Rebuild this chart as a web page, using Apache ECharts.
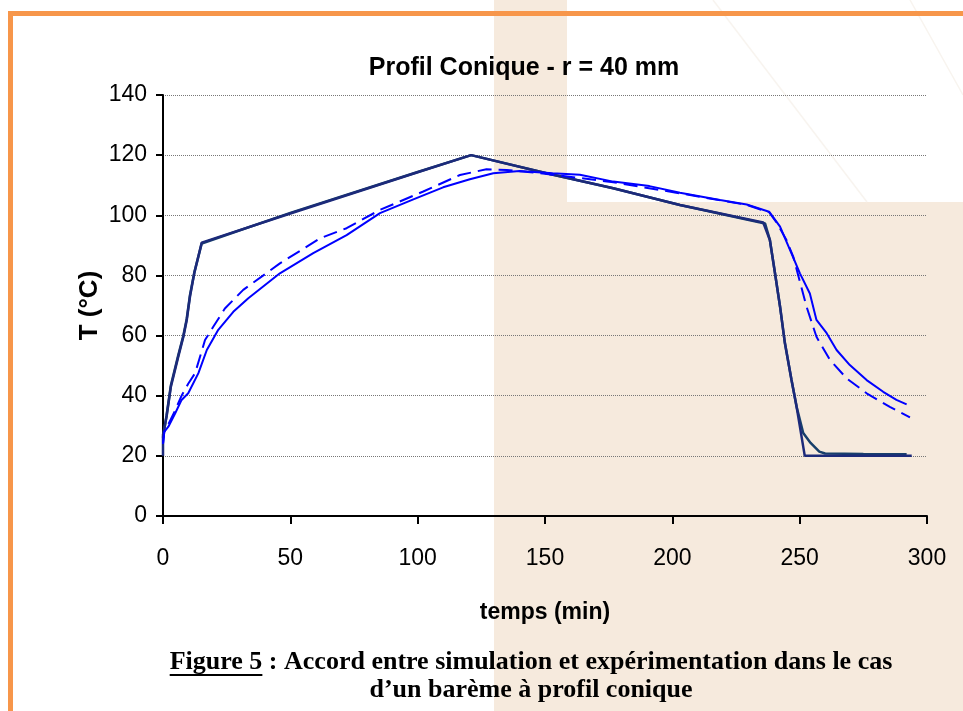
<!DOCTYPE html>
<html>
<head>
<meta charset="utf-8">
<style>
  html, body { margin: 0; padding: 0; background: #fff; }
  #myChart { width: 963px; height: 711px; }
</style>
<script src="https://cdn.jsdelivr.net/npm/echarts@6.0.0/dist/echarts.min.js"></script>
</head>
<body>
<div id="myChart"></div>
<script>
// ticks
const xTicks = [0, 50, 100, 150, 200, 250, 300]
const yTicks = [0, 20, 40, 60, 80, 100, 120, 140]

// consigne (profil conique)
const tConsigne = [0, 0, 1.4, 3.1, 6, 8, 9.3, 10.6, 12.3, 15.2, 50, 100, 121, 150.6, 176.8, 203, 235.7, 238.3, 240.3, 242.3, 244.2, 246.8, 248.8, 252, 294]
const TConsigne = [20, 27, 33, 43, 53, 59.6, 65, 73, 80.8, 90.9, 100.6, 114.3, 120, 114, 109, 103.4, 97.6, 91.8, 80.8, 69.6, 57.5, 45.2, 36.3, 20, 20]

// surface mesuree
const tSurface = [0, 1.4, 3.1, 6, 8, 9.3, 10.6, 12.3, 15.2, 50, 100, 121, 150.6, 176.8, 203, 236.4, 238.3, 240.3, 242.3, 244.2, 246.8, 248.8, 251.4, 254.3, 257.7, 260, 275, 292]
const TSurface = [26, 33.5, 43.5, 53.5, 60, 65.5, 73.5, 81, 90.6, 100.8, 114.4, 120, 114, 109, 103.4, 97.3, 91.8, 80.8, 69.6, 57.5, 45.2, 36.3, 27.6, 24.3, 21.4, 20.8, 20.6, 20.5]

// coeur experimental (trait plein)
const tCoeurExp = [0, 0.5, 2.1, 4.7, 7.3, 9.9, 13.9, 17.2, 21.7, 27.6, 33.5, 45.9, 59, 72.1, 85.2, 98.3, 110, 120.5, 129.7, 140, 153, 163.7, 176.8, 191, 203, 218.7, 229.2, 238, 242.3, 246.2, 250.1, 254, 256.6, 260.6, 264.5, 269.7, 276.3, 282.8, 288, 292]
const TCoeurExp = [24, 28, 29.7, 34, 38.6, 40.8, 47.5, 55.2, 61.9, 67.9, 72.4, 80.7, 87.4, 93.4, 100.7, 105.3, 109.3, 112, 114, 114.7, 114, 113.5, 111.2, 109.7, 107.5, 105.1, 103.6, 101.2, 96.2, 88.5, 80.7, 74, 65.2, 60.8, 55.2, 50.2, 45.2, 41.3, 38.6, 37.1]

// coeur simule (pointille)
const tCoeurSim = [0, 0.5, 2.1, 4.7, 7.3, 9.9, 12.6, 16.5, 19.8, 24.3, 31.5, 45.9, 61.6, 72.1, 85.2, 102.2, 116.6, 127, 135, 150, 176.8, 203, 229, 238, 241, 244.8, 247.5, 250.1, 252.7, 256.6, 261.9, 268.4, 276.3, 285.4, 293.3]
const TCoeurSim = [24, 28, 30.5, 35, 40, 44, 47.5, 58.5, 63, 69, 75.2, 84, 92.3, 95.7, 101.8, 107.9, 113.4, 115.3, 115.1, 113.8, 111, 107.3, 103.5, 101, 97.5, 91.8, 86.2, 77.9, 69.6, 59.6, 51.9, 45.8, 40.8, 36.3, 32.8]

function pairs (ts, vs) {
  return ts.map((t, i) => [t, vs[i]])
}

// caption, "Figure 5" souligne
const captionFont = 'bold 26px "Liberation Serif"'
const capA = 'Figure 5'
const capB = ' : Accord entre simulation et expérimentation dans le cas'
const capLine2 = 'd\u2019un barème à profil conique'
const ctx = document.createElement('canvas').getContext('2d')
ctx.font = captionFont
const wA = ctx.measureText(capA).width
const wAll = ctx.measureText(capA + capB).width
const capX = 531 - wAll / 2

let myChart = echarts.init(document.getElementById('myChart'))
myChart.setOption({
  animation: false,
  backgroundColor: '#fff',
  title: {
    text: 'Profil Conique - r = 40 mm',
    left: 519,
    top: 51,
    textAlign: 'center',
    textStyle: { fontFamily: 'Liberation Sans', fontSize: 25, fontWeight: 'bold', color: '#000' }
  },
  grid: { left: 163, right: 36, top: 95, bottom: 195 },
  xAxis: {
    type: 'value',
    min: xTicks[0],
    max: xTicks[xTicks.length - 1],
    interval: 50,
    name: 'temps (min)',
    nameLocation: 'middle',
    nameGap: 85,
    nameMoveOverlap: false,
    nameTextStyle: { fontFamily: 'Liberation Sans', fontSize: 23, fontWeight: 'bold', color: '#000' },
    axisLine: { lineStyle: { color: '#000', width: 2 } },
    axisTick: { inside: false, length: 8, lineStyle: { color: '#000', width: 2 } },
    axisLabel: { fontFamily: 'Liberation Sans', fontSize: 23, color: '#000', margin: 31 },
    splitLine: { show: false }
  },
  yAxis: {
    type: 'value',
    min: yTicks[0],
    max: yTicks[yTicks.length - 1],
    interval: 20,
    name: 'T (°C)',
    nameLocation: 'middle',
    nameGap: 60,
    nameMoveOverlap: false,
    nameTextStyle: { fontFamily: 'Liberation Sans', fontSize: 26, fontWeight: 'bold', color: '#000' },
    axisLine: { show: true, lineStyle: { color: '#000', width: 2 } },
    axisTick: { show: true, length: 7, lineStyle: { color: '#000', width: 2 } },
    axisLabel: { fontFamily: 'Liberation Sans', fontSize: 23, color: '#000', margin: 16 },
    splitLine: { show: true, lineStyle: { color: '#777', width: 1, type: [1, 1] } }
  },
  series: [
    {
      name: 'Surface',
      type: 'line',
      showSymbol: false,
      lineStyle: { color: '#173F6B', width: 2.5 },
      data: pairs(tSurface, TSurface)
    },
    {
      name: 'Consigne',
      type: 'line',
      showSymbol: false,
      lineStyle: { color: '#1C2A7A', width: 2.5 },
      data: pairs(tConsigne, TConsigne)
    },
    {
      name: 'Coeur exp',
      type: 'line',
      showSymbol: false,
      lineStyle: { color: '#0000FF', width: 2 },
      data: pairs(tCoeurExp, TCoeurExp)
    },
    {
      name: 'Coeur sim',
      type: 'line',
      showSymbol: false,
      lineStyle: { color: '#0000FF', width: 2, type: [14, 7] },
      data: pairs(tCoeurSim, TCoeurSim)
    }
  ],
  graphic: [
    // fond de la page
    { type: 'rect', z: -10, shape: { x: 494, y: 0, width: 73, height: 711 }, style: { fill: '#F6EADD' } },
    { type: 'rect', z: -10, shape: { x: 567, y: 202, width: 396, height: 509 }, style: { fill: '#F6EADD' } },
    { type: 'line', z: -10, shape: { x1: 713, y1: 0, x2: 867, y2: 202 }, style: { stroke: '#F8F4EF', lineWidth: 1.5 } },
    { type: 'line', z: -10, shape: { x1: 910, y1: 0, x2: 963, y2: 95 }, style: { stroke: '#F8F4EF', lineWidth: 1.5 } },
    { type: 'rect', z: -9, shape: { x: 8, y: 11, width: 955, height: 5 }, style: { fill: '#F7964A' } },
    { type: 'rect', z: -9, shape: { x: 8, y: 11, width: 5, height: 700 }, style: { fill: '#F7964A' } },
    // legende de la figure
    { type: 'text', z: 100, x: capX, y: 662, style: { text: capA, font: captionFont, fill: '#000', textAlign: 'left', textVerticalAlign: 'middle' } },
    { type: 'line', z: 100, shape: { x1: capX, y1: 675, x2: capX + wA, y2: 675 }, style: { stroke: '#000', lineWidth: 2 } },
    { type: 'text', z: 100, x: capX + wA, y: 662, style: { text: capB, font: captionFont, fill: '#000', textAlign: 'left', textVerticalAlign: 'middle' } },
    { type: 'text', z: 100, x: 531, y: 690, style: { text: capLine2, font: captionFont, fill: '#000', textAlign: 'center', textVerticalAlign: 'middle' } }
  ]
})
</script>
</body>
</html>
